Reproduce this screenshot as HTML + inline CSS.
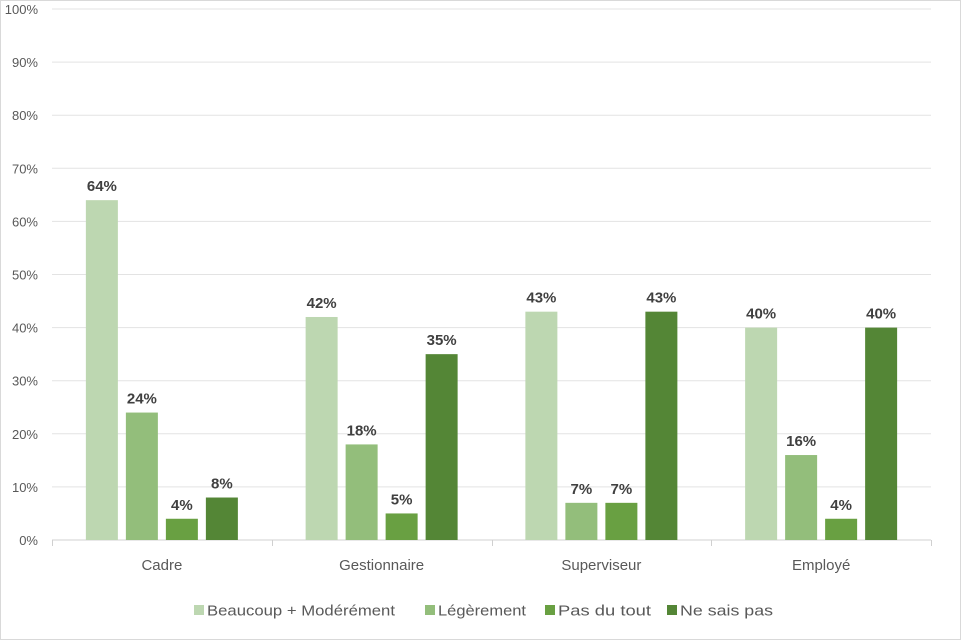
<!DOCTYPE html>
<html><head><meta charset="utf-8"><style>
body{margin:0;background:#fff;}
svg{display:block;font-family:"Liberation Sans",sans-serif;}
</style></head><body>
<svg id="chart" width="961" height="640">
<rect x="0.5" y="0.5" width="960" height="639" fill="#fff" stroke="#d9d9d9"/>
<g id="grid"></g><g id="bars"></g><g id="labels"></g><g id="legend"></g>
</svg>
<script>
const categories=["Cadre","Gestionnaire","Superviseur","Employé"];
const seriesNames=["Beaucoup + Modérément","Légèrement","Pas du tout","Ne sais pas"];
const beaucoup=[64,42,43,40];
const legerement=[24,18,7,16];
const pasDuTout=[4,5,7,4];
const neSaisPas=[8,35,43,40];
const yTicks=[0,10,20,30,40,50,60,70,80,90,100];
const series=[beaucoup,legerement,pasDuTout,neSaisPas];
const colors=["#bdd7b1","#93be7b","#69a042","#548636"];
const ns="http://www.w3.org/2000/svg";
const X0=52,X1=931,Y0=540,Y1=9;
const bw=(X1-X0)/categories.length;
const y=v=>Y0-(v/100)*(Y0-Y1);
const barW=32,gap=8;
function mk(t,a,p){const e=document.createElementNS(ns,t);for(const k in a)e.setAttribute(k,a[k]);p.appendChild(e);return e;}
const grid=document.getElementById('grid');
yTicks.forEach(t=>{
  const l=mk('line',{x1:X0,x2:X1,y1:y(t),y2:y(t),stroke:t===0?'#d0d0d0':'#e3e3e3','stroke-width':1},grid);
  
  
  const tx=mk('text',{x:38,y:y(t)+5,'text-anchor':'end','font-size':13,fill:'#595959'},grid);
  tx.textContent=t+'%';
  
  
});
for(let i=0;i<=categories.length;i++){
  const xx=Math.round(X0+i*bw)+0.5;
  const l=mk('line',{x1:xx,x2:xx,y1:Y0,y2:Y0+6,stroke:'#d0d0d0'},grid);
  
  
}
const bars=document.getElementById('bars'),labels=document.getElementById('labels');
categories.forEach((c,i)=>{
  const gx=X0+i*bw+(bw-(4*barW+3*gap))/2;
  series.forEach((s,j)=>{
    const bx=gx+j*(barW+gap);
    const r=mk('rect',{x:bx,y:y(s[i]),width:barW,height:Y0-y(s[i]),fill:colors[j]},bars);
    
    
    const t=mk('text',{x:bx+barW/2,y:y(s[i])-9,'text-anchor':'middle','font-size':15,'font-weight':'bold',fill:'#404040'},labels);
    t.textContent=s[i]+'%';
    
    
  });
  const ct=mk('text',{x:X0+i*bw+bw/2,y:570,'text-anchor':'middle','font-size':15,fill:'#595959'},labels);
  ct.textContent=c;
  
  
});
const legend=document.getElementById('legend');
const lx=[194,425,545,667];
const lw=[188,88,93,93];
seriesNames.forEach((n,j)=>{
  const g=mk('g',{},legend);
  
  
  mk('rect',{x:lx[j],y:605,width:10,height:10,fill:colors[j]},g);
  const t=mk('text',{x:lx[j]+13,y:615.5,'font-size':15,fill:'#595959',textLength:lw[j],lengthAdjust:'spacingAndGlyphs'},g);
  t.textContent=n;
});
</script>
</body></html>
